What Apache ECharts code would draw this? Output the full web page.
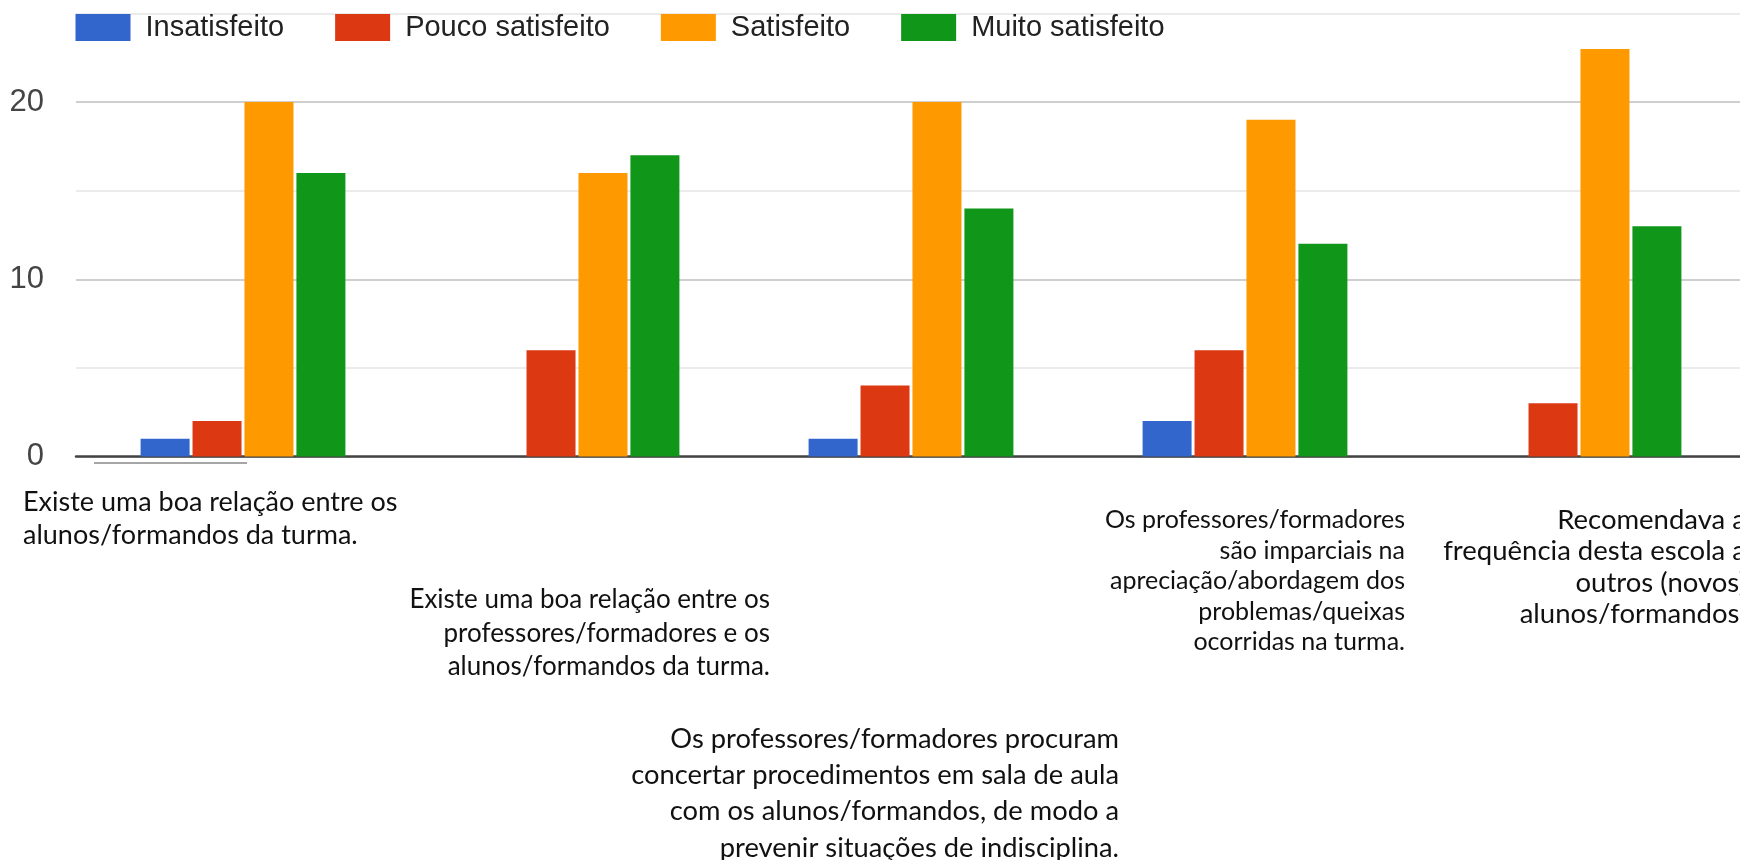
<!DOCTYPE html>
<html>
<head>
<meta charset="utf-8">
<script src="https://cdn.jsdelivr.net/npm/echarts@6.0.0/dist/echarts.min.js"></script>
<style>
html, body { margin: 0; padding: 0; background: #fff; }
#main { width: 1740px; height: 860px; }
</style>
</head>
<body>
<div id="main"></div>
<script>
// questions (line breaks as in the picture)
var categories = [
    'Existe uma boa relação entre os\nalunos/formandos da turma.',
    'Existe uma boa relação entre os\nprofessores/formadores e os\nalunos/formandos da turma.',
    'Os professores/formadores procuram\nconcertar procedimentos em sala de aula\ncom os alunos/formandos, de modo a\nprevenir situações de indisciplina.',
    'Os professores/formadores\nsão imparciais na\napreciação/abordagem dos\nproblemas/queixas\nocorridas na turma.',
    'Recomendava a\nfrequência desta escola a\noutros (novos)\nalunos/formandos.'
]
var seriesNames = ['Insatisfeito', 'Pouco satisfeito', 'Satisfeito', 'Muito satisfeito']
var insatisfeito = [1, 0, 1, 2, 0]
var poucoSatisfeito = [2, 6, 4, 6, 3]
var satisfeito = [20, 16, 20, 19, 23]
var muitoSatisfeito = [16, 17, 14, 12, 13]
var yTickLabels = [0, 10, 20]

var colors = ['#3366cc', '#dc3912', '#ff9900', '#109618']

// where each pasted question box sits, relative to its category centre
var labelLayout = [
    { dx: -220, y: 502, size: 27, lh: 33, align: 'left' },
    { dx: 193, y: 600, size: 26, lh: 33.5, align: 'right' },
    { dx: 208, y: 739, size: 27.3, lh: 36.3, align: 'right' },
    { dx: 160, y: 520, size: 25, lh: 30.5, align: 'right' },
    { dx: 167, y: 520, size: 27.5, lh: 31.5, align: 'right' }
]

var myChart = echarts.init(document.getElementById('main'), null, { renderer: 'canvas' })

var allValues = [insatisfeito, poucoSatisfeito, satisfeito, muitoSatisfeito]
var series = seriesNames.map(function (name, i) {
    return {
        name: name,
        type: 'bar',
        data: allValues[i],
        barWidth: 49,
        barGap: '6%',
        itemStyle: { color: colors[i] },
        animation: false
    }
})

var option = {
    backgroundColor: '#fff',
    animation: false,
    color: colors,
    legend: {
        data: seriesNames,
        left: 70.5,
        top: 8,
        icon: 'rect',
        itemWidth: 55,
        itemHeight: 27,
        itemGap: 51,
        textStyle: {
            fontFamily: 'Liberation Sans',
            fontSize: 29,
            color: '#222',
            padding: [0, 0, 0, 10]
        }
    },
    grid: {
        left: 76,
        top: 13.5,
        width: 1670,
        height: 443,
        outerBoundsMode: 'none',
        containLabel: false
    },
    xAxis: {
        type: 'category',
        data: categories,
        axisLabel: { show: false },
        axisTick: { show: false },
        axisLine: { lineStyle: { color: '#444', width: 2.5 } },
        splitLine: { show: false }
    },
    yAxis: {
        type: 'value',
        min: 0,
        max: 25,
        interval: 5,
        axisLine: { show: false },
        axisTick: { show: false },
        axisLabel: {
            margin: 32,
            fontFamily: 'Liberation Sans',
            fontSize: 31,
            color: '#444',
            formatter: function (v) {
                return yTickLabels.indexOf(v) >= 0 ? String(v) : ''
            }
        },
        splitLine: {
            lineStyle: { color: ['#cfcfcf', '#ebebeb'], width: 2 }
        }
    },
    series: series
}

myChart.setOption(option)

// question boxes, placed from the category axis
var graphics = categories.map(function (text, i) {
    var cx = myChart.convertToPixel({ xAxisIndex: 0 }, i)
    var l = labelLayout[i]
    return {
        type: 'text',
        x: cx + l.dx,
        y: l.y - l.lh / 2,
        silent: true,
        style: {
            text: text,
            fontFamily: 'Lato',
            fontSize: l.size,
            lineHeight: l.lh,
            align: l.align,
            verticalAlign: 'top',
            fill: '#111'
        }
    }
})
// thin stray rule under the first group
graphics.push({
    type: 'line',
    silent: true,
    shape: { x1: 94, y1: 463, x2: 247, y2: 463 },
    style: { stroke: '#888', lineWidth: 1.5 }
})

myChart.setOption({ graphic: graphics })
</script>
</body>
</html>
